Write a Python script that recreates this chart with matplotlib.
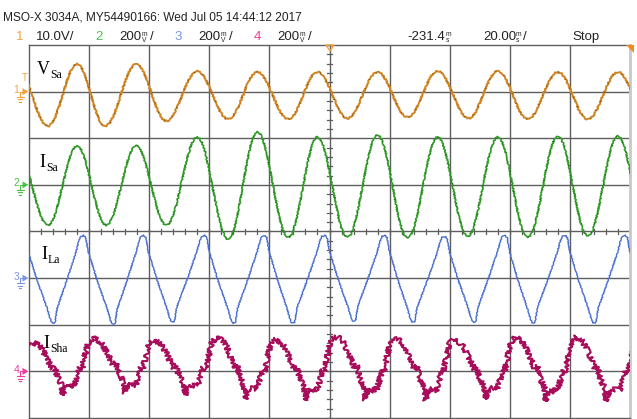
import numpy as np
import matplotlib
matplotlib.use("Agg")
from matplotlib import pyplot as plt
from matplotlib.patches import Polygon

# screen: 10 div x 20 ms, 8 div vertical
ms_per_div = 20.0
n_xdiv = 10
n_ydiv = 8

# ch1 V_Sa (V), ch2 I_Sa, ch3 I_La, ch4 I_Sha (mV)
ch_scale = [10.0, 200.0, 200.0, 200.0]
ch_ground = [3, 1, -1, -3]

# ch1 turning points, time in ms from left edge
v_peak_t = [-4.3, 16.0, 35.7, 56.0, 76.0, 96.0, 116.0, 136.0, 156.0, 176.0, 196.0]
v_peak_v = [5.9, 5.9, 5.9, 4.4, 4.2, 4.2, 4.2, 4.4, 4.4, 4.2, 4.2]
v_trough_t = [6.3, 25.3, 45.7, 66.3, 86.3, 106.0, 126.0, 146.3, 166.0, 186.0, 206.0]
v_trough_v = [-7.4, -7.4, -6.3, -5.9, -5.9, -5.7, -5.5, -5.7, -5.9, -5.9, -5.9]

# ch2
is_peak_t = [-4.3, 16.0, 35.7, 56.0, 76.0, 96.0, 116.0, 136.0, 156.0, 176.0, 196.0]
is_peak_v = [167, 167, 167, 205, 227, 205, 214, 205, 205, 209, 209]
is_trough_t = [6.3, 25.7, 45.7, 66.3, 86.3, 106.0, 126.0, 146.0, 166.0, 186.0, 206.0]
is_trough_v = [-173, -173, -173, -233, -224, -224, -228, -220, -224, -220, -220]

# ch3
il_peak_t = [-2.3, 17.7, 37.7, 58.0, 78.0, 98.0, 118.0, 138.0, 158.0, 178.0, 198.0]
il_peak_v = [180, 180, 180, 180, 180, 180, 180, 176, 180, 180, 180]
il_trough_t = [8.0, 28.0, 47.7, 68.0, 87.7, 108.0, 127.7, 148.0, 167.7, 188.0, 208.0]
il_trough_v = [-193, -197, -189, -193, -193, -185, -189, -189, -193, -193, -193]

# ch4
ish_peak_t = [1.3, 21.3, 41.3, 62.7, 82.0, 102.0, 121.7, 141.3, 162.0, 182.0, 203.7]
ish_peak_v = [125, 143, 134, 147, 138, 151, 143, 138, 147, 147, 147]
ish_trough_t = [-8.7, 11.3, 32.0, 52.0, 72.0, 92.0, 112.0, 132.0, 152.0, 172.0, 192.0]
ish_trough_v = [-102, -102, -94, -102, -119, -124, -124, -124, -119, -128, -128]

# shape of one half cycle: s = share of the half period, f = share of the swing
il_fall_s = [0, 0.05, 0.12, 0.19, 0.29, 0.48, 0.81, 0.92, 0.97, 1]
il_fall_f = [0, -0.01, 0.02, 0.17, 0.28, 0.50, 0.83, 0.96, 0.995, 1]
il_rise_s = [0, 0.07, 0.14, 0.48, 0.80, 0.88, 0.95, 1]
il_rise_f = [1, 0.99, 0.83, 0.50, 0.17, 0.06, 0.0, 0]

ish_fall_s = [0, 0.18, 0.32, 0.46, 0.64, 0.71, 0.82, 0.96, 1]
ish_fall_f = [0, 0.05, 0.14, 0.30, 0.50, 0.45, 0.66, 0.80, 1]
ish_rise_s = [0, 0.06, 0.16, 0.25, 0.375, 0.47, 0.56, 0.63, 0.72, 0.84, 1]
ish_rise_f = [1, 0.84, 0.87, 0.81, 0.84, 0.70, 0.52, 0.55, 0.33, 0.08, 0]

trace_col = ['#CF8421', '#2F9A25', '#4A6FCF', '#A70D5B']
label_col = ['#F2A23A', '#4CC048', '#7D95E6', '#EE3A9A']
grid_col = '#5E5E5E'
text_col = '#222222'
sans = ['Liberation Sans', 'DejaVu Sans']
serif = ['Liberation Serif', 'DejaVu Serif']


def turning_points(pt, pv, tt, tv):
    pts = [(a, b, 1) for a, b in zip(pt, pv)] + [(a, b, 0) for a, b in zip(tt, tv)]
    return sorted(pts)


def sine_trace(pts, n=24):
    t, v = [], []
    s = np.linspace(0, 1, n, endpoint=False)
    for (t0, v0, _), (t1, v1, _) in zip(pts[:-1], pts[1:]):
        t.extend(t0 + s * (t1 - t0))
        v.extend(v0 + (v1 - v0) * (1 - np.cos(np.pi * s)) / 2)
    t.append(pts[-1][0])
    v.append(pts[-1][1])
    return np.array(t), np.array(v)


def shaped_trace(pts, fall_s, fall_f, rise_s, rise_f):
    t, v = [], []
    for (t0, v0, k0), (t1, v1, k1) in zip(pts[:-1], pts[1:]):
        if k0 == 1:
            s, f, vp, vt = fall_s, fall_f, v0, v1
        else:
            s, f, vp, vt = rise_s, rise_f, v1, v0
        s = np.array(s[:-1])
        f = np.array(f[:-1])
        t.extend(t0 + s * (t1 - t0))
        v.extend(vp + f * (vt - vp))
    t.append(pts[-1][0])
    v.append(pts[-1][1])
    return np.array(t), np.array(v)


traces = [
    sine_trace(turning_points(v_peak_t, v_peak_v, v_trough_t, v_trough_v)),
    sine_trace(turning_points(is_peak_t, is_peak_v, is_trough_t, is_trough_v)),
    shaped_trace(turning_points(il_peak_t, il_peak_v, il_trough_t, il_trough_v),
                 il_fall_s, il_fall_f, il_rise_s, il_rise_f),
    shaped_trace(turning_points(ish_peak_t, ish_peak_v, ish_trough_t, ish_trough_v),
                 ish_fall_s, ish_fall_f, ish_rise_s, ish_rise_f),
]

W, H = 637, 419
fig = plt.figure(figsize=(W / 100, H / 100), dpi=100)
fig.patch.set_facecolor('white')

# scope screen, pixel box 29..630 x 45..418
ax = fig.add_axes([29 / W, 1 / H, 601 / W, 373 / H])
t_end = ms_per_div * n_xdiv
ax.set_xlim(0, t_end)
ax.set_ylim(-n_ydiv / 2, n_ydiv / 2)
ax.set_xticks([])
ax.set_yticks([])
for k in range(1, n_xdiv):
    ax.axvline(k * ms_per_div, color=grid_col, lw=1.0, zorder=1)
for k in range(1, n_ydiv):
    ax.axhline(k - n_ydiv / 2, color=grid_col, lw=1.0, zorder=1)
for side in ['left', 'top', 'bottom']:
    ax.spines[side].set_color(grid_col)
    ax.spines[side].set_linewidth(1.0)
ax.spines['right'].set_color('#C9C9C9')
ax.spines['right'].set_linewidth(2.0)

# minor ticks on the centre cross
mid_t = t_end / 2
for y in np.arange(-n_ydiv / 2, n_ydiv / 2 + 0.01, 0.2):
    ax.plot([mid_t - 0.8, mid_t + 0.8], [y, y], color=grid_col, lw=0.9, zorder=1)
for x in np.arange(0, t_end + 0.01, ms_per_div / 5):
    ax.plot([x, x], [-0.06, 0.06], color=grid_col, lw=0.9, zorder=1)

widths = [1.4, 1.2, 1.0, 1.5]
fuzz = [(0.7, 2, 2), (0.7, 2, 2), (0.5, 3, 2), (2.6, 0.9, 3)]
for i, (t, v) in enumerate(traces):
    y = v / ch_scale[i] + ch_ground[i]
    ln, = ax.plot(t, y, color=trace_col[i], lw=widths[i], zorder=3, solid_joinstyle='round')
    ln.set_sketch_params(*fuzz[i])
    if i < 2:
        ax.plot(t, y, color='#3c2a10' if i == 0 else '#124a10', lw=1.3,
                ls=(0, (0.5, 5)), zorder=4, alpha=0.5)

# overlay in pixel units for the annotations
ov = fig.add_axes([0, 0, 1, 1], zorder=5)
ov.set_xlim(0, W)
ov.set_ylim(H, 0)
ov.axis('off')

ov.text(3, 17, 'MSO-X 3034A, MY54490166: Wed Jul 05 14:44:12 2017', family=sans,
        fontsize=8.6, color=text_col, va='center', ha='left')

row = 37
fs = 9.5


def stacked(x, units):
    ov.text(x, row, units, family=sans, fontsize=4.8, linespacing=0.8, color=text_col,
            ha='left', va='center')


num_x = [20, 99, 178, 257]
for i in range(4):
    ov.text(num_x[i], row, str(i + 1), family=sans, fontsize=fs, color=label_col[i],
            ha='center', va='center')
ov.text(36, row, '10.0V/', family=sans, fontsize=fs, color=text_col, va='center')
for x0 in [119, 198, 277]:
    ov.text(x0, row, '200', family=sans, fontsize=fs, color=text_col, va='center')
    stacked(x0 + 23, 'm\nV')
    ov.text(x0 + 31, row, '/', family=sans, fontsize=fs, color=text_col, va='center')
ov.text(407, row, '-231.4', family=sans, fontsize=fs, color=text_col, va='center')
stacked(446, 'm\ns')
ov.text(483, row, '20.00', family=sans, fontsize=fs, color=text_col, va='center')
stacked(516, 'm\ns')
ov.text(523, row, '/', family=sans, fontsize=fs, color=text_col, va='center')
ov.text(572, row, 'Stop', family=sans, fontsize=fs, color=text_col, va='center')

# ground markers on the left edge
gnd_px = [45 + 373 / 8 * k for k in (1, 3, 5, 7)]
for i, y0 in enumerate(gnd_px):
    c = label_col[i]
    ov.text(16.5, y0 - 1.5, str(i + 1), family=sans, fontsize=7.5, color=c,
            ha='center', va='center')
    ov.add_patch(Polygon([[22.5, y0 - 3.5], [22.5, y0 + 3.5], [28.5, y0]], closed=True,
                         facecolor=c, edgecolor='none'))
    ov.plot([20, 20, 23], [y0 + 5, y0, y0], color=c, lw=0.8)
    for j, hw in enumerate([3.5, 2.3, 1.1]):
        ov.plot([20 - hw, 20 + hw], [y0 + 5 + 2.5 * j] * 2, color=c, lw=0.8)
ov.text(24.5, 78, 'T', family=sans, fontsize=7, color=label_col[0], ha='center', va='center')

# trigger position and off-screen marks on the top edge
ov.add_patch(Polygon([[326, 45], [334, 45], [330, 51]], closed=True, facecolor='none',
                     edgecolor=label_col[0], lw=1.0))
ov.add_patch(Polygon([[626, 45], [634, 45], [634, 53]], closed=True, facecolor='#F08A1A',
                     edgecolor='none'))

# waveform names
names = [('V', 'Sa', 37, 74), ('I', 'Sa', 39, 167), ('I', 'La', 41, 259), ('I', 'Sha', 43, 348)]
for big, sub, x0, yb in names:
    ov.text(x0, yb, big, family=serif, fontsize=13, color='black', va='baseline', ha='left')
    bx = x0 + (13.5 if big == 'V' else 7)
    ov.text(bx, yb + 3.5, sub, family=serif, fontsize=8.5, color='black', va='baseline', ha='left')

fig.savefig('out.png', dpi=100, facecolor='white')
